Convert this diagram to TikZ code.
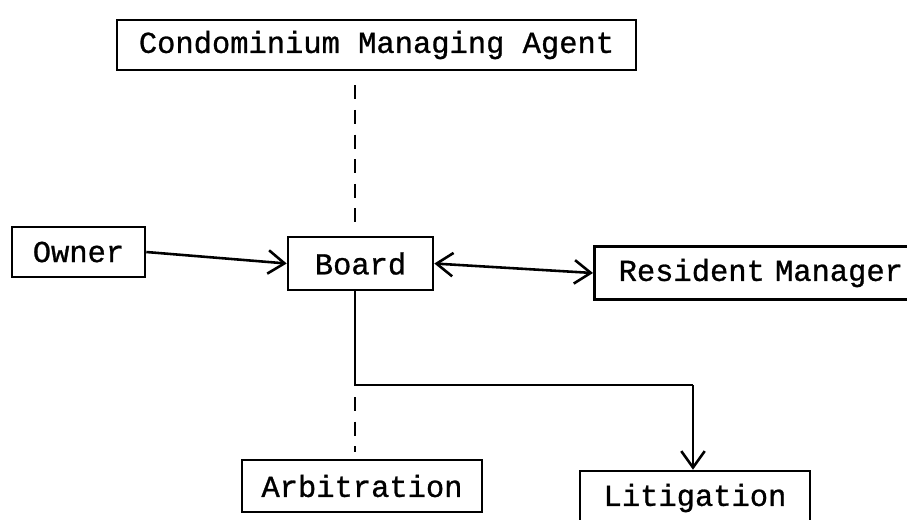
\documentclass[tikz,border=0pt]{standalone}
\usepackage{fontspec}
\newfontfamily\twfont[FakeBold=0.9]{Liberation Mono}
\usetikzlibrary{arrows.meta}
\begin{document}
\begin{tikzpicture}[x=0.03cm,y=-0.03cm,
  box/.style={draw,line width=2.2pt,inner sep=0pt,font=\twfont\fontsize{26}{30}\selectfont},
  conn/.style={line width=2.2pt},
  dashconn/.style={line width=2.2pt,dash pattern=on 12pt off 9pt},
  barb/.style={-{Straight Barb[length=14pt,width=20pt,line width=2.2pt]}},
  dbarb/.style={{Straight Barb[length=14pt,width=20pt,line width=2.2pt]}-{Straight Barb[length=14pt,width=20pt,line width=2.2pt]}}]
\useasboundingbox (0,0) rectangle (907,519);
\node[box,minimum width=519*0.03cm,minimum height=50*0.03cm] (cma) at (376.5,45) {Condominium Managing Agent};
\node[box,minimum width=133*0.03cm,minimum height=50*0.03cm] (owner) at (78.5,252) {Owner};
\node[box,minimum width=145*0.03cm,minimum height=53*0.03cm] (board) at (360.5,263.5) {Board};
\node[box,anchor=west,minimum height=53*0.03cm,text width=330*0.03cm,align=left] (rm) at (593,273) {\hspace*{0.8em}Resident Manager};
\node[box,minimum width=240*0.03cm,minimum height=52*0.03cm] (arb) at (362,486) {Arbitration};
\node[box,minimum width=230*0.03cm,minimum height=54*0.03cm] (lit) at (695,498) {Litigation};
\coordinate (j1) at (355,385);
\coordinate (j2) at (693,385);
\coordinate (j3) at (355,397);
\draw[dashconn] ([yshift=-12pt]cma.south -| j1) -- ([yshift=6pt]board.north -| j1);
\draw[conn,barb] (owner.east) -- (board.west);
\draw[conn,dbarb] (board.east) -- (rm.west);
\draw[conn] (board.south -| j1) -- (j1) -- (j2);
\draw[conn,barb] (j2) -- (lit.north -| j2);
\draw[dashconn] (j3) -- ([yshift=6pt]arb.north -| j3);
\end{tikzpicture}
\end{document}
